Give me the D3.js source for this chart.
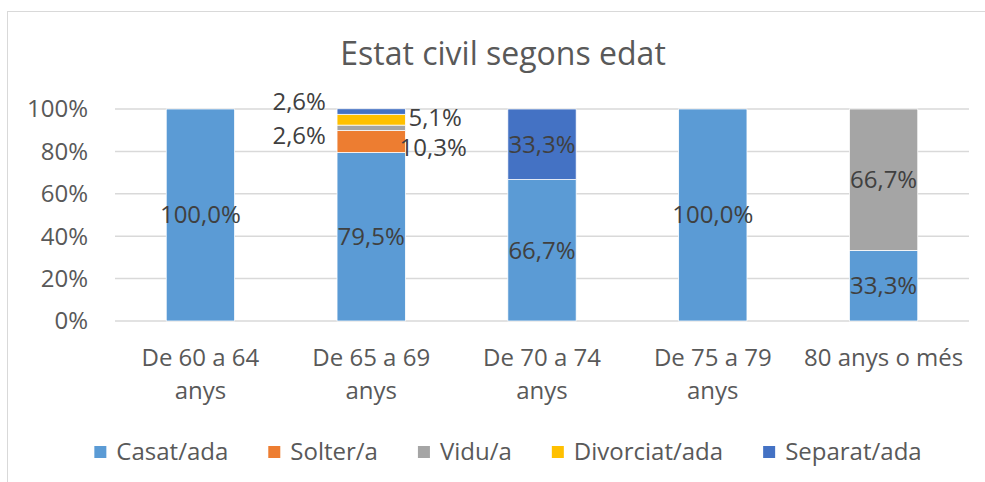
<!DOCTYPE html>
<html>
<head>
<meta charset="utf-8">
<style>
  body { margin: 0; background: #fff; }
  svg { display: block; font-family: "Open Sans", sans-serif; }
</style>
</head>
<body>
<svg width="985" height="482"></svg>
<script src="https://d3js.org/d3.v7.min.js"></script>
<script>

// categories and series (shares of each age group)
const categories = ["De 60 a 64|anys", "De 65 a 69|anys", "De 70 a 74|anys", "De 75 a 79|anys", "80 anys o més"];
const seriesNames = ["Casat/ada", "Solter/a", "Vidu/a", "Divorciat/ada", "Separat/ada"];
const casat     = [100.0, 79.5, 66.7, 100.0, 33.3];
const solter    = [0, 10.3, 0, 0, 0];
const vidu      = [0, 2.6, 0, 0, 66.7];
const divorciat = [0, 5.1, 0, 0, 0];
const separat   = [0, 2.6, 33.3, 0, 0];
const yTicks = [0, 20, 40, 60, 80, 100];
const colors = ["#5B9BD5", "#ED7D31", "#A5A5A5", "#FFC000", "#4472C4"];

// where excel pushed the small labels out of the bar (series index + category index)
const labelShift = {
  "1-1": [62, 6],
  "2-1": [-72, 8],
  "3-1": [64, -2],
  "4-1": [-72, -10]
};

const svg = d3.select("svg");
const plotL = 115, plotR = 969, plotT = 109, plotB = 321;

// chart frame
svg.append("rect")
  .attr("x", 7.5).attr("y", 11.5)
  .attr("width", 1000).attr("height", 500)
  .attr("fill", "none").attr("stroke", "#d9d9d9");

svg.append("text")
  .attr("x", 503).attr("y", 65)
  .attr("text-anchor", "middle")
  .attr("fill", "#595959")
  .attr("font-size", "32px")
  .text("Estat civil segons edat");

const rows = categories.map((c, i) => ({
  cat: c,
  values: [casat[i], solter[i], vidu[i], divorciat[i], separat[i]]
}));

let x = d3.scaleBand().domain(categories).range([plotL, plotR]).paddingInner(0.6).paddingOuter(0.3);
let y = d3.scaleLinear().domain([0, 100]).range([plotB, plotT]);

// gridlines
svg.append("g").selectAll("line").data(yTicks).enter().append("line")
  .attr("x1", plotL).attr("x2", plotR)
  .attr("y1", d => y(d)).attr("y2", d => y(d))
  .attr("stroke", "#d9d9d9").attr("stroke-width", 1.5);

// y tick labels
svg.append("g").selectAll("text").data(yTicks).enter().append("text")
  .attr("x", 88).attr("y", d => y(d))
  .attr("dy", "0.35em")
  .attr("text-anchor", "end")
  .attr("fill", "#595959")
  .attr("font-size", "24px")
  .text(d => d + "%");

// stacked bars
const segs = [];
rows.forEach((r, ci) => {
  let acc = 0;
  r.values.forEach((v, si) => {
    segs.push({cat: r.cat, ci: ci, si: si, v: v, y0: acc, y1: acc + v});
    acc += v;
  });
});

svg.append("g").selectAll("rect").data(segs.filter(d => d.v > 0)).enter().append("rect")
  .attr("x", d => x(d.cat))
  .attr("width", x.bandwidth())
  .attr("y", d => y(d.y1))
  .attr("height", d => y(d.y0) - y(d.y1))
  .attr("fill", d => colors[d.si])
  .attr("stroke", "#fff").attr("stroke-width", 0.75);

// data labels
svg.append("g").selectAll("text").data(segs.filter(d => d.v > 0)).enter().append("text")
  .attr("x", d => x(d.cat) + x.bandwidth() / 2 + (labelShift[d.si + "-" + d.ci] || [0, 0])[0])
  .attr("y", d => y((d.y0 + d.y1) / 2) + (labelShift[d.si + "-" + d.ci] || [0, 0])[1])
  .attr("dy", "0.35em")
  .attr("text-anchor", "middle")
  .attr("fill", "#404040")
  .attr("font-size", "24px")
  .text(d => d.v.toFixed(1).replace(".", ",") + "%");

// x axis labels, two lines
const xl = svg.append("g").selectAll("text").data(categories).enter().append("text")
  .attr("x", d => x(d) + x.bandwidth() / 2)
  .attr("y", 366)
  .attr("text-anchor", "middle")
  .attr("fill", "#595959")
  .attr("font-size", "24px");
xl.each(function(d) {
  const parts = d.split("|");
  const t = d3.select(this);
  parts.forEach((p, k) => {
    t.append("tspan")
      .attr("x", x(d) + x.bandwidth() / 2)
      .attr("dy", k === 0 ? 0 : 33)
      .text(p);
  });
});

// legend
const lg = svg.append("g");
const items = lg.selectAll("g").data(seriesNames).enter().append("g");
items.append("rect")
  .attr("width", 12).attr("height", 12)
  .attr("y", -6)
  .attr("fill", (d, i) => colors[i]);
items.append("text")
  .attr("x", 22)
  .attr("dy", "0.35em")
  .attr("fill", "#595959")
  .attr("font-size", "24px")
  .text(d => d);
let pos = 0;
const offs = [];
items.each(function() {
  offs.push(pos);
  pos += 22 + this.querySelector("text").getComputedTextLength() + 40;
});
const total = pos - 40;
items.attr("transform", (d, i) => "translate(" + (508 - total / 2 + offs[i]) + ",452)");

</script>
</body>
</html>
